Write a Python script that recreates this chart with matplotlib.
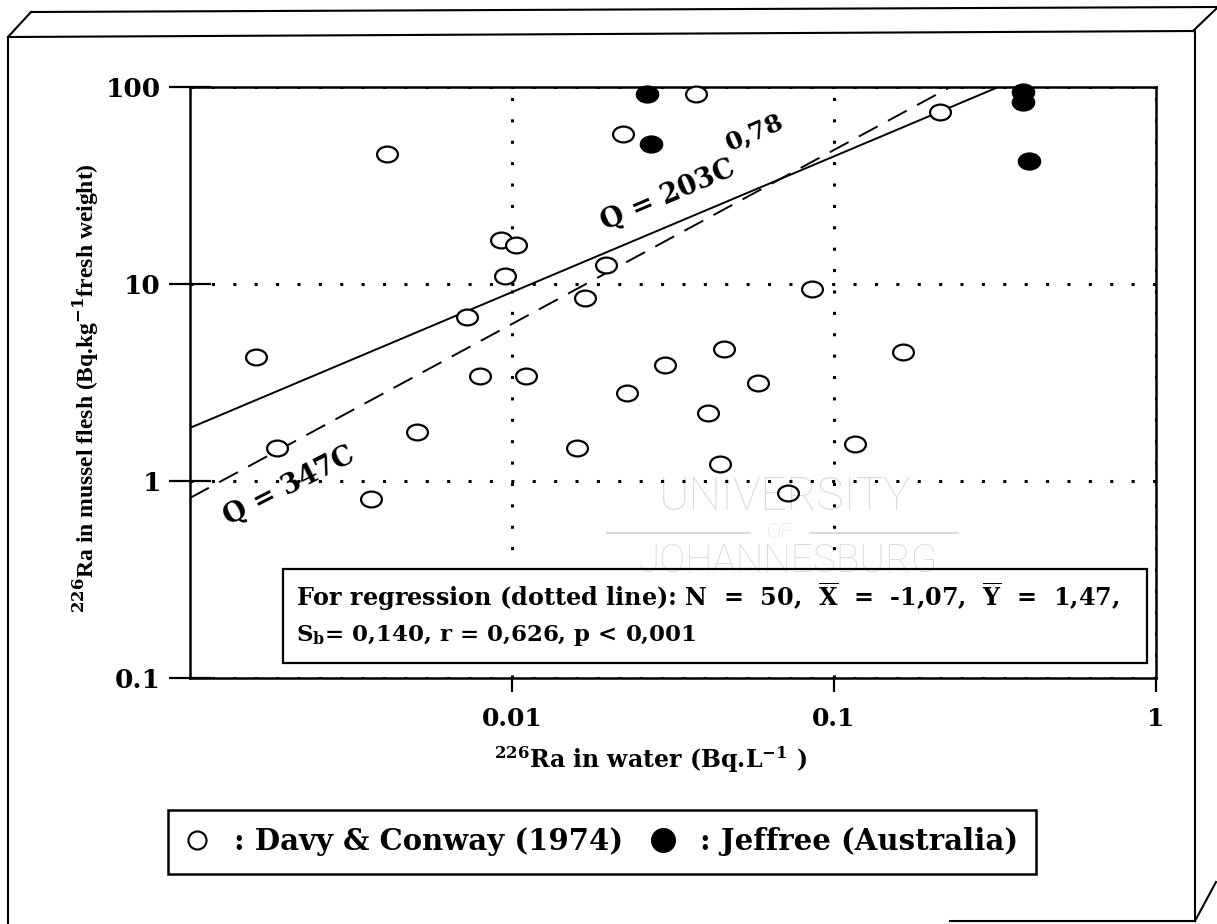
import matplotlib.pyplot as plt
from matplotlib.path import Path
from matplotlib.transforms import Affine2D
from matplotlib.lines import Line2D
from matplotlib.patches import Rectangle

plt.rcParams['font.family'] = 'DejaVu Serif'
plt.rcParams['font.weight'] = 'bold'
plt.rcParams['axes.labelweight'] = 'bold'
plt.rcParams['mathtext.fontset'] = 'custom'
plt.rcParams['mathtext.rm'] = 'DejaVu Serif:bold'
plt.rcParams['mathtext.it'] = 'DejaVu Serif:bold'
plt.rcParams['mathtext.bf'] = 'DejaVu Serif:bold'

# Davy & Conway (1974): Ra-226 in water (Bq/L) vs in mussel flesh (Bq/kg)
davy_c = [0.0016, 0.00186, 0.0041, 0.00366, 0.00508, 0.00726, 0.00796, 0.00924,
          0.01028, 0.0095, 0.01104, 0.0168, 0.01955, 0.0159, 0.0227, 0.0221,
          0.0298, 0.0372, 0.0405, 0.0456, 0.0441, 0.0582, 0.0721, 0.0855,
          0.116, 0.164, 0.213]
davy_q = [4.26, 1.47, 45.7, 0.81, 1.77, 6.8, 3.41, 16.7,
          15.8, 11.0, 3.4, 8.5, 12.5, 1.47, 2.8, 57.7,
          3.88, 92, 2.21, 4.68, 1.22, 3.14, 0.87, 9.4,
          1.54, 4.52, 74.7]

# Jeffree (Australia)
jef_c = [0.0262, 0.0271, 0.387, 0.387, 0.402]
jef_q = [92, 51.4, 94, 84, 42.1]

# regression lines (end points)
solid_c = [0.001, 0.324]
solid_q = [1.86, 100]
dash_c = [0.001, 0.23]
dash_q = [0.82, 100]

W, H = 1217, 924
fig = plt.figure(figsize=(W / 100, H / 100), dpi=100)
ax = fig.add_axes([190 / W, 1 - 678 / H, 966 / W, 591 / H])

ell = Path.unit_circle().transformed(Affine2D().scale(1.0, 0.76))

ax.plot(solid_c, solid_q, color='black', lw=1.4, zorder=2)
ax.plot(dash_c, dash_q, color='black', lw=1.4, dashes=(11, 6), zorder=2)
ax.plot(davy_c, davy_q, ls='none', marker=ell, ms=15, mfc='white', mec='black',
        mew=1.6, clip_on=False, zorder=3)
ax.plot(jef_c, jef_q, ls='none', marker=ell, ms=16, mfc='black', mec='black',
        mew=1.0, clip_on=False, zorder=3)

ax.set_xscale('log')
ax.set_yscale('log')
ax.set_xlim(0.001, 1)
ax.set_ylim(0.1, 100)
ax.set_xticks([0.01, 0.1, 1])
ax.set_xticklabels(['0.01', '0.1', '1'])
ax.set_yticks([0.1, 1, 10, 100])
ax.set_yticklabels(['0.1', '1', '10', '100'])
ax.minorticks_off()
ax.tick_params(axis='x', direction='out', length=10, width=1.6, pad=11, labelsize=18)
ax.tick_params(axis='y', direction='inout', length=30, width=1.6, pad=6, labelsize=19)
for s in ax.spines.values():
    s.set_linewidth(1.8)

ax.set_axisbelow(True)
ax.grid(True, color='black', linewidth=2.2, linestyle=(0, (1, 6)))

ax.set_xlabel(r'$^{226}$Ra in water (Bq.L$^{-1}$ )', fontsize=17)
ax.xaxis.set_label_coords(0.477, -0.113)
ax.set_ylabel(r'$^{226}$Ra in mussel flesh (Bq.kg$^{-1}$fresh weight)',
              fontsize=17, family='Liberation Serif')
ax.yaxis.set_label_coords(-0.092, 0.49)

# equations along the lines
ax.text(0.0306, 28.0, 'Q = 203C', fontsize=19.5, rotation=23, ha='center',
        va='center', rotation_mode='anchor')
ax.text(0.0565, 59.0, '0,78', fontsize=18, rotation=23, ha='center',
        va='center', rotation_mode='anchor')
ax.text(0.00203, 0.944, 'Q = 347C', fontsize=19.5, rotation=27, ha='center',
        va='center', rotation_mode='anchor')

# statistics box
fig.add_artist(Rectangle((283 / W, 1 - 663 / H), 864 / W, 94 / H,
                         transform=fig.transFigure, facecolor='white',
                         edgecolor='black', lw=1.6, zorder=3))
fig.text(296 / W, 1 - 597 / H,
         r'For regression (dotted line): N  =  50,  $\overline{\mathrm{X}}$  =  -1,07,  '
         r'$\overline{\mathrm{Y}}$  =  1,47,', fontsize=17.2, va='center', zorder=4)
fig.text(296 / W, 1 - 636 / H, r'S$_{\mathrm{b}}$= 0,140, r = 0,626, p < 0,001',
         fontsize=16.5, va='center', zorder=4)

# legend
h_open = Line2D([], [], ls='none', marker='o', ms=13, mfc='white', mec='black', mew=1.5)
h_fill = Line2D([], [], ls='none', marker='o', ms=17, mfc='black', mec='black')
leg = fig.legend([h_open, h_fill], [': Davy & Conway (1974)', ': Jeffree (Australia)'],
                 loc='center', bbox_to_anchor=(602 / W, 1 - 842 / H), ncol=2,
                 fontsize=21, frameon=True, fancybox=False, edgecolor='black',
                 framealpha=1, borderpad=0.6, handlelength=0.75, handletextpad=0.9,
                 columnspacing=1.0)
leg.get_frame().set_linewidth(1.8)


# box outline around the whole figure
def frame(xs, ys):
    fig.add_artist(Line2D([x / W for x in xs], [1 - y / H for y in ys],
                          color='black', lw=1.5, zorder=6))


frame([8, 8], [37, 924])
frame([8, 1193], [37, 31])
frame([31, 1217], [12, 7])
frame([8, 31], [37, 12])
frame([1193, 1217], [31, 8])
frame([1195, 1195], [31, 921])
frame([950, 1195], [921, 921])
frame([1195, 1216], [921, 882])

# faint watermark
wm = dict(color='black', alpha=0.14, ha='center', va='center', zorder=7,
          family='Roboto', weight='light')
fig.text(785 / W, 1 - 497 / H, 'UNIVERSITY', fontsize=33, **wm)
fig.text(780 / W, 1 - 533 / H, 'OF', fontsize=15, **wm)
fig.text(788 / W, 1 - 561 / H, 'JOHANNESBURG', fontsize=28, **wm)
for xs in ([607, 750], [810, 958]):
    fig.add_artist(Line2D([x / W for x in xs], [1 - 533 / H] * 2, color='black',
                          alpha=0.14, lw=1.5, zorder=7))

fig.savefig('out.png', dpi=100)
